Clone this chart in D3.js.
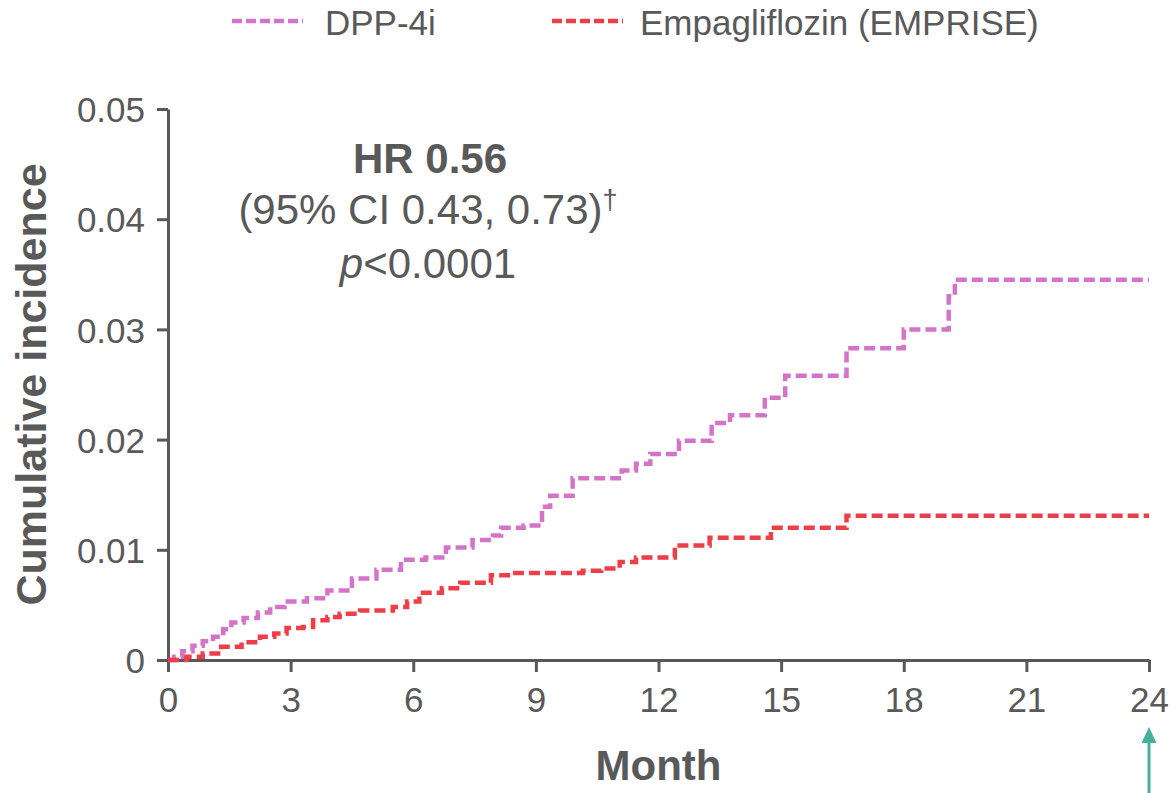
<!DOCTYPE html>
<html>
<head>
  <meta charset="utf-8">
  <script src="https://d3js.org/d3.v7.min.js"></script>
  <style>
    body { margin: 0; background: #fff; }
    text { font-family: "Liberation Sans", Arial, sans-serif; fill: #595959; }
  </style>
</head>
<body>
<div id="container"></div>
<script>
const width = 1171, height = 793;
const margin = {top: 109, right: 22, bottom: 133, left: 168};

// cumulative incidence (month, value)
const dppMonths = [0, 0.15, 0.35, 0.6, 0.85, 1.1, 1.35, 1.55, 1.85, 2.2, 2.5, 2.85, 3.4, 3.9, 4.5, 5.1,
  5.7, 6.3, 6.8, 7.45, 7.95, 8.15, 8.7, 9.15, 9.35, 9.9, 11.1, 11.45, 11.8, 12.5, 13.3, 13.75, 14.6,
  15.1, 16.6, 18.0, 19.1, 19.25, 24];
const dppValues = [0, 0.0003, 0.0008, 0.0013, 0.0017, 0.0021, 0.0028, 0.0034, 0.0038, 0.0043, 0.0048,
  0.0053, 0.0056, 0.0063, 0.0074, 0.0082, 0.0091, 0.0093, 0.0102, 0.0109, 0.0113, 0.0120, 0.0122,
  0.0139, 0.0149, 0.0165, 0.0172, 0.0178, 0.0187, 0.0199, 0.0215, 0.0222, 0.0238, 0.0258, 0.0283,
  0.0300, 0.0330, 0.0345, 0.0345];

const empaMonths = [0, 0.45, 0.85, 1.3, 1.8, 2.25, 2.6, 2.9, 3.3, 3.55, 3.9, 4.2, 4.7, 5.5, 5.85, 6.15,
  6.7, 7.15, 7.9, 8.4, 10.15, 10.6, 11.05, 11.45, 12.4, 13.25, 14.75, 16.6, 24];
const empaValues = [0, 0.0003, 0.0006, 0.0012, 0.0016, 0.0021, 0.0024, 0.0029, 0.0030, 0.0036, 0.0039,
  0.0042, 0.0045, 0.0048, 0.0053, 0.0061, 0.0065, 0.0070, 0.0077, 0.0079, 0.0081, 0.0083, 0.0089,
  0.0093, 0.0104, 0.0111, 0.0120, 0.0131, 0.0131];

const xTicks = [0, 3, 6, 9, 12, 15, 18, 21, 24];
const yTicks = [0, 0.01, 0.02, 0.03, 0.04, 0.05];
const seriesNames = ["DPP-4i", "Empagliflozin (EMPRISE)"];
const seriesColors = ["#d374c9", "#ee3f48"];

const svg = d3.select("#container").append("svg")
  .attr("width", width)
  .attr("height", height);

const x = d3.scaleLinear().domain([0, 24]).range([margin.left, width - margin.right]);
const y = d3.scaleLinear().domain([0, 0.05]).range([height - margin.bottom, margin.top]);

// axes
const xAxis = svg.append("g")
  .attr("transform", `translate(0,${y(0)})`)
  .call(d3.axisBottom(x).tickValues(xTicks).tickSize(12).tickPadding(10).tickSizeOuter(0));
const yAxis = svg.append("g")
  .attr("transform", `translate(${x(0)},0)`)
  .call(d3.axisLeft(y).tickValues(yTicks).tickSize(11).tickPadding(12).tickSizeOuter(0)
    .tickFormat(d => d === 0 ? "0" : d3.format(".2f")(d)));

[xAxis, yAxis].forEach(g => {
  g.selectAll("path, line").attr("stroke", "#595959").attr("stroke-width", 3);
  g.selectAll("text").attr("font-size", 35).attr("fill", "#595959")
    .style("font-family", '"Liberation Sans", Arial, sans-serif');
});
yAxis.selectAll("text").attr("dy", "0.36em");
xAxis.selectAll("text").attr("dy", "0.85em");

// curves
const line = d3.line()
  .x(d => x(d[0]))
  .y(d => y(d[1]))
  .curve(d3.curveStepAfter);

const series = [
  d3.zip(dppMonths, dppValues),
  d3.zip(empaMonths, empaValues)
];

svg.selectAll("path.km")
  .data(series)
  .enter()
  .append("path")
  .attr("class", "km")
  .attr("d", line)
  .attr("fill", "none")
  .attr("stroke", (d, i) => seriesColors[i])
  .attr("stroke-width", 4.5)
  .attr("stroke-dasharray", "11,5");

// legend
const legendX = [232, 552];
seriesNames.forEach((name, i) => {
  svg.append("line")
    .attr("x1", legendX[i]).attr("x2", legendX[i] + 71)
    .attr("y1", 21).attr("y2", 21)
    .attr("stroke", seriesColors[i])
    .attr("stroke-width", 4.5)
    .attr("stroke-dasharray", "10,4");
  svg.append("text")
    .attr("x", legendX[i] + (i === 0 ? 93 : 88))
    .attr("y", 35)
    .attr("font-size", 35)
    .text(name);
});

// annotation
svg.append("text")
  .attr("x", 430).attr("y", 173)
  .attr("text-anchor", "middle")
  .attr("font-size", 42)
  .attr("font-weight", "bold")
  .text("HR 0.56");

const ci = svg.append("text")
  .attr("x", 428).attr("y", 224)
  .attr("text-anchor", "middle")
  .attr("font-size", 42);
ci.append("tspan").text("(95% CI 0.43, 0.73)");
ci.append("tspan").attr("font-size", 27).attr("dy", -15).text("†");

const pv = svg.append("text")
  .attr("x", 428).attr("y", 278)
  .attr("text-anchor", "middle")
  .attr("font-size", 42);
pv.append("tspan").attr("font-style", "italic").text("p");
pv.append("tspan").text("<0.0001");

// axis titles
svg.append("text")
  .attr("x", x(12)).attr("y", 780)
  .attr("text-anchor", "middle")
  .attr("font-size", 42)
  .attr("font-weight", "bold")
  .text("Month");

svg.append("text")
  .attr("transform", `translate(46,${y(0.025)}) rotate(-90)`)
  .attr("text-anchor", "middle")
  .attr("font-size", 43)
  .attr("font-weight", "bold")
  .text("Cumulative incidence");

// arrow at 24 months
const ax = x(24);
svg.append("line")
  .attr("x1", ax).attr("x2", ax)
  .attr("y1", height).attr("y2", 740)
  .attr("stroke", "#45b09b")
  .attr("stroke-width", 3);
svg.append("path")
  .attr("d", `M${ax - 7.5},743 L${ax},727 L${ax + 7.5},743 Z`)
  .attr("fill", "#45b09b");
</script>
</body>
</html>
